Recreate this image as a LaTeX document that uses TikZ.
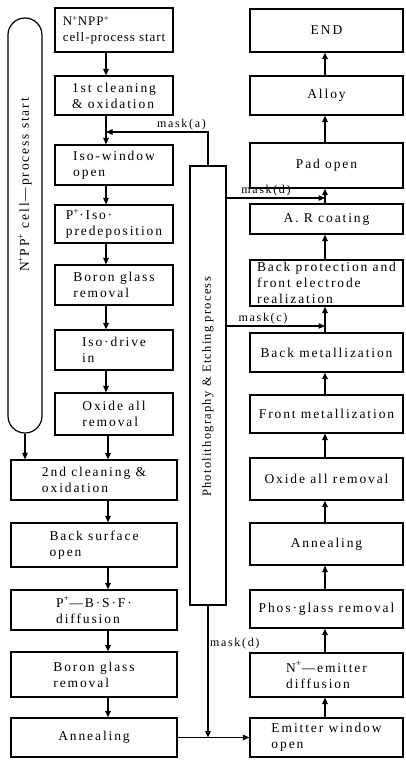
\documentclass[tikz,border=0pt]{standalone}
\usepackage{fontspec}
\setmainfont{Liberation Serif}[LetterSpace=14]
\usetikzlibrary{arrows.meta,positioning,calc}

\begin{document}
\begin{tikzpicture}[x=1pt, y=-1pt, font=\fontsize{13.5}{16}\selectfont, >={Triangle[length=6.5pt,width=5.5pt]}, line width=1.1pt,
  p/.style={draw, line width=1.2pt, inner sep=0pt, align=left},
  pu/.style={p, minimum width=118pt},
  pl/.style={p, minimum width=166pt},
  pr/.style={p, minimum width=153pt},
  mk/.style={font=\fontsize{12}{12}\selectfont, inner sep=1.5pt}]
  \useasboundingbox (0,0) rectangle (405,760);
  \coordinate (ax) at (106,0); \coordinate (bx) at (108,0); \coordinate (rx) at (325,0);
  % upper left column
  \node[pu, line width=1.7pt, minimum height=44pt, font=\fontsize{13}{16}\selectfont\addfontfeatures{LetterSpace=7}] (cs) at (114,30) {N\textsuperscript{+}NPP\textsuperscript{+}\\cell-process start};
  \node[pu, minimum height=39pt] (cl1) at (114,95.5) {1st cleaning\\\& oxidation};
  \node[pu, minimum height=40pt] (iw) at (114,165) {Iso-window\\open};
  \node[pu, minimum height=38pt] (ip) at (114,224) {P\textsuperscript{+}·Iso·\\predeposition};
  \node[pu, minimum height=40pt] (bg1) at (114,285) {Boron glass\\removal};
  \node[pu, minimum height=40pt] (id) at (114,350) {Iso·drive\\in};
  \node[pu, minimum height=42pt] (ox1) at (114,414) {Oxide all\\removal};
  \node[draw, line width=1.2pt, rounded corners=17pt, minimum width=34pt, minimum height=415pt] (pill) at (25,225.5) {};
  \node[rotate=90] (pilltxt) at (25,185) {N\textsuperscript{+}PP\textsuperscript{+} cell—process start};
  % lower left column
  \node[pl, minimum height=40pt] (cl2) at (94,480) {2nd cleaning \&\\oxidation};
  \node[pl, minimum height=44pt] (bs) at (94,545) {Back surface\\open};
  \node[pl, minimum height=40pt] (bsf) at (94,610) {P\textsuperscript{+}—B·S·F·\\diffusion};
  \node[pl, minimum height=45pt] (bg2) at (94,674.5) {Boron glass\\removal};
  \node[pl, minimum height=39pt] (an1) at (94,737.5) {Annealing};
  % photolithography
  \node[p, minimum width=36pt, minimum height=439pt] (ph) at (208,385.5) {};
  \node[rotate=90, font=\fontsize{12.5}{14}\selectfont\addfontfeatures{LetterSpace=10}] (phtxt) at (208,387) {Photolithography \& Etching process};
  % right column
  \node[pr, minimum height=43pt] (end) at (326.5,30.5) {END};
  \node[pr, minimum height=39pt] (al) at (326.5,95.5) {Alloy};
  \node[pr, minimum height=45pt] (po) at (326.5,165.5) {Pad open};
  \node[pr, minimum height=30pt] (ar) at (326.5,219) {A. R coating};
  \node[pr, minimum height=46pt] (bp) at (326.5,283) {Back protection and\\front electrode\\realization};
  \node[pr, minimum height=39pt] (bm) at (326.5,352.5) {Back metallization};
  \node[pr, minimum height=38pt] (fm) at (326.5,414) {Front metallization};
  \node[pr, minimum height=42pt] (ox2) at (326.5,479) {Oxide all removal};
  \node[pr, minimum height=42pt] (an2) at (326.5,544) {Annealing};
  \node[pr, minimum height=38pt] (pg) at (326.5,609) {Phos·glass removal};
  \node[pr, minimum height=44pt] (ed) at (326.5,675) {N\textsuperscript{+}—emitter\\diffusion};
  \node[pr, minimum height=39pt] (ew) at (326.5,737.5) {Emitter window\\open};
  % arrows
  \draw[->] (cs.south -| ax) -- (cl1.north -| ax); \draw[->] (cl1.south -| ax) -- (iw.north -| ax);
  \draw[->] (iw.south -| ax) -- (ip.north -| ax); \draw[->] (ip.south -| ax) -- (bg1.north -| ax);
  \draw[->] (bg1.south -| ax) -- (id.north -| ax); \draw[->] (id.south -| ax) -- (ox1.north -| ax);
  \draw[->] (ox1.south -| bx) -- (cl2.north -| bx); \draw[->] (pill.south) -- (pill.south |- cl2.north);
  \draw[->] (cl2.south -| bx) -- (bs.north -| bx); \draw[->] (bs.south -| bx) -- (bsf.north -| bx);
  \draw[->] (bsf.south -| bx) -- (bg2.north -| bx); \draw[->] (bg2.south -| bx) -- (an1.north -| bx);
  \draw[->] (an1) -- (ew);
  \draw[->] (ew.north -| rx) -- (ed.south -| rx); \draw[->] (ed.north -| rx) -- (pg.south -| rx);
  \draw[->] (pg.north -| rx) -- (an2.south -| rx); \draw[->] (an2.north -| rx) -- (ox2.south -| rx);
  \draw[->] (ox2.north -| rx) -- (fm.south -| rx); \draw[->] (fm.north -| rx) -- (bm.south -| rx);
  \draw[->] (bm.north -| rx) -- (bp.south -| rx); \draw[->] (bp.north -| rx) -- (ar.south -| rx);
  \draw[->] (ar.north -| rx) -- (po.south -| rx); \draw[->] (po.north -| rx) -- (al.south -| rx);
  \draw[->] (al.north -| rx) -- (end.south -| rx);
  % masks
  \coordinate (ma) at (0,132); \coordinate (md) at (0,198); \coordinate (mc) at (0,326);
  \draw[->] (ph.north) |- node[mk, pos=0.63, above] {mask(a)} (ma -| ax);
  \draw[->] (ph.east |- md) -- node[mk, pos=0.4, above] {mask(d)} (md -| rx);
  \draw[->] (ph.east |- mc) -- node[mk, pos=0.37, above] {mask(c)} (mc -| rx);
  \draw[->] (ph.south) -- node[mk, pos=0.29, right] {mask(d)} (ph.south |- an1.east);
\end{tikzpicture}
\end{document}
